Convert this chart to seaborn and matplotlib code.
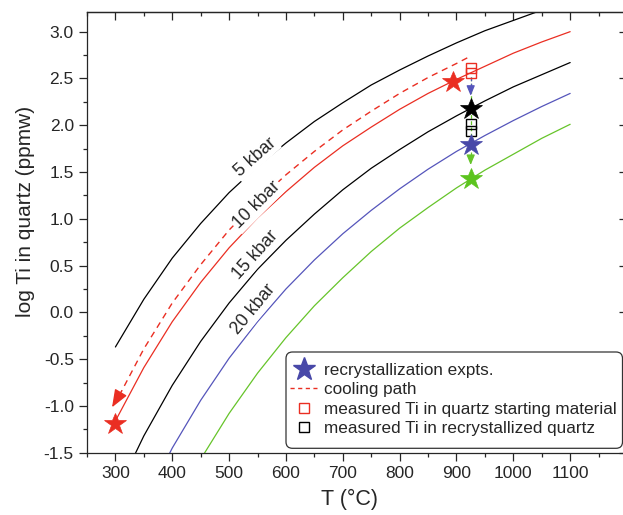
import matplotlib
matplotlib.use("Agg")
import matplotlib.pyplot as plt
from matplotlib.lines import Line2D
from matplotlib.patches import FancyBboxPatch
import seaborn as sns

# ---------------- data ----------------
T_C = [300, 350, 400, 450, 500, 550, 600, 650, 700, 750, 800, 850, 900, 950, 1000, 1050, 1100]
ti_5kbar = [-0.37, 0.14, 0.58, 0.95, 1.28, 1.56, 1.81, 2.04, 2.24, 2.43, 2.59, 2.74, 2.88, 3.01, 3.12, 3.23, 3.33]
ti_10kbar = [-1.16, -0.59, -0.10, 0.32, 0.69, 1.01, 1.29, 1.55, 1.78, 1.98, 2.17, 2.34, 2.49, 2.63, 2.77, 2.89, 3.00]
ti_15kbar = [-1.95, -1.32, -0.78, -0.31, 0.10, 0.46, 0.77, 1.05, 1.31, 1.54, 1.74, 1.93, 2.10, 2.26, 2.41, 2.54, 2.67]
ti_20kbar = [-2.75, -2.05, -1.45, -0.94, -0.49, -0.10, 0.25, 0.56, 0.84, 1.09, 1.32, 1.53, 1.72, 1.89, 2.05, 2.20, 2.34]
ti_25kbar = [-3.54, -2.78, -2.13, -1.57, -1.08, -0.65, -0.27, 0.07, 0.37, 0.65, 0.90, 1.12, 1.33, 1.52, 1.69, 1.86, 2.01]

cool_T = [919, 900, 850, 800, 750, 700, 650, 600, 550, 500, 450, 400, 350, 311]
cool_logti = [2.72, 2.66, 2.51, 2.34, 2.15, 1.95, 1.72, 1.47, 1.19, 0.88, 0.51, 0.10, -0.39, -0.84]
cool_tip_T = 294
cool_tip_logti = -1.015

star_T = [300, 894, 925, 925, 925]
star_logti = [-1.19, 2.46, 2.17, 1.79, 1.42]
star_kind = ["red", "red", "black", "blue", "green"]

start_sq_T = [925, 925]
start_sq_logti = [2.61, 2.56]
recr_sq_T = [925, 925]
recr_sq_logti = [2.01, 1.94]

arrow_T = 925
arrow_from = 2.52
blue_arrow_to = 2.315
green_arrow_to = 1.575

kbar_labels = ["5 kbar", "10 kbar", "15 kbar", "20 kbar"]
kbar_label_T = [546, 549, 546, 543]
kbar_label_logti = [1.66, 1.15, 0.61, 0.03]
kbar_label_rot = [41.5, 45, 48, 50.5]

legend_labels = ["recrystallization expts.", "cooling path",
                 "measured Ti in quartz starting material",
                 "measured Ti in recrystallized quartz"]

# ---------------- style ----------------
RED = "#EA2E22"
BLUE = "#4848A8"
BLUE_LINE = "#5555BB"
GREEN = "#5CC41E"
GREEN_LINE = "#66C42A"
colors = {"red": RED, "black": "black", "blue": BLUE, "green": GREEN}

sns.set_style("ticks")
plt.rcParams["font.family"] = ["Liberation Sans", "DejaVu Sans"]
plt.rcParams["axes.linewidth"] = 0.9

W, H = 623, 515
fig = plt.figure(figsize=(W / 100, H / 100), dpi=100)
ax_l, ax_r, ax_t, ax_b = 87, 627, 12.3, 452.7
ax = fig.add_axes([ax_l / W, (H - ax_b) / H, (ax_r - ax_l) / W, (ax_b - ax_t) / H])

lw = 0.9
sns.lineplot(x=T_C, y=ti_5kbar, ax=ax, color="black", lw=lw, sort=False, estimator=None, zorder=2)
sns.lineplot(x=T_C, y=ti_10kbar, ax=ax, color=RED, lw=lw, sort=False, estimator=None, zorder=2)
sns.lineplot(x=T_C, y=ti_15kbar, ax=ax, color="black", lw=lw, sort=False, estimator=None, zorder=2)
sns.lineplot(x=T_C, y=ti_20kbar, ax=ax, color=BLUE_LINE, lw=lw, sort=False, estimator=None, zorder=2)
sns.lineplot(x=T_C, y=ti_25kbar, ax=ax, color=GREEN_LINE, lw=lw, sort=False, estimator=None, zorder=2)

# cooling path
sns.lineplot(x=cool_T, y=cool_logti, ax=ax, color=RED, lw=1.0, sort=False, estimator=None,
             dashes=False, linestyle=(0, (4.5, 3.5)), zorder=2)
ax.annotate("", xy=(cool_tip_T, cool_tip_logti), xytext=(cool_T[-1], cool_logti[-1]),
            arrowprops=dict(arrowstyle="-|>,head_length=0.9,head_width=0.35", color=RED,
                            lw=1.0, mutation_scale=12, shrinkA=0, shrinkB=0), zorder=3)

# vertical arrows
sns.lineplot(x=[arrow_T, arrow_T], y=[arrow_from, green_arrow_to + 0.06], ax=ax, color=GREEN_LINE,
             lw=0.9, sort=False, estimator=None, linestyle=(0, (3, 2)), zorder=3)
ax.annotate("", xy=(arrow_T, green_arrow_to), xytext=(arrow_T, green_arrow_to + 0.07),
            arrowprops=dict(arrowstyle="-|>,head_length=0.6,head_width=0.25", color=GREEN_LINE,
                            lw=0.9, mutation_scale=10, shrinkA=0, shrinkB=0), zorder=3)
sns.lineplot(x=[arrow_T, arrow_T], y=[arrow_from, blue_arrow_to + 0.06], ax=ax, color=BLUE_LINE,
             lw=0.9, sort=False, estimator=None, linestyle=(0, (3, 2)), zorder=3)
ax.annotate("", xy=(arrow_T, blue_arrow_to), xytext=(arrow_T, blue_arrow_to + 0.07),
            arrowprops=dict(arrowstyle="-|>,head_length=0.6,head_width=0.25", color=BLUE_LINE,
                            lw=0.9, mutation_scale=10, shrinkA=0, shrinkB=0), zorder=3)

# measured squares
sns.lineplot(x=start_sq_T, y=start_sq_logti, ax=ax, marker="s", linestyle="none", markersize=6.5,
             markerfacecolor="none", markeredgecolor=RED, markeredgewidth=1.0, sort=False,
             estimator=None, zorder=5)
sns.lineplot(x=recr_sq_T, y=recr_sq_logti, ax=ax, marker="s", linestyle="none", markersize=6.5,
             markerfacecolor="none", markeredgecolor="black", markeredgewidth=1.0, sort=False,
             estimator=None, zorder=5)

# stars
for t, v, k in zip(star_T, star_logti, star_kind):
    sns.lineplot(x=[t], y=[v], ax=ax, marker="*", linestyle="none", markersize=16.5,
                 color=colors[k], markeredgecolor=colors[k], markeredgewidth=0.5,
                 sort=False, estimator=None, zorder=6)

# kbar labels
for lab, t, v, r in zip(kbar_labels, kbar_label_T, kbar_label_logti, kbar_label_rot):
    ax.text(t, v, lab, rotation=r, rotation_mode="anchor", ha="center", va="center",
            fontsize=12.8, zorder=4,
            bbox=dict(boxstyle="square,pad=0.1", fc="white", ec="none"))

# axes
ax.set_xlim(250, 1200)
ax.set_ylim(-1.5, 3.207)
ax.set_xticks(list(range(300, 1200, 100)))
ax.set_xticks(list(range(250, 1200, 100)), minor=True)
yt = [-1.5, -1.0, -0.5, 0.0, 0.5, 1.0, 1.5, 2.0, 2.5, 3.0]
ax.set_yticks(yt)
ax.set_yticks([-1.25, -0.75, -0.25, 0.25, 0.75, 1.25, 1.75, 2.25, 2.75], minor=True)
ax.set_yticklabels(["%.1f" % v for v in yt])
ax.tick_params(which="major", direction="out", length=5.5, width=0.9, labelsize=12.5, pad=4)
ax.tick_params(which="minor", direction="out", length=3, width=0.9)
for s in ["top", "right"]:
    ax.spines[s].set_visible(True)

sec_x = ax.secondary_xaxis("top")
sec_x.set_xticks(list(range(300, 1200, 100)))
sec_x.set_xticks(list(range(250, 1200, 100)), minor=True)
sec_x.tick_params(which="major", direction="in", length=5.5, width=0.9, labeltop=False)
sec_x.tick_params(which="minor", direction="in", length=3, width=0.9)
sec_y = ax.secondary_yaxis("right")
sec_y.set_yticks(yt)
sec_y.set_yticks([-1.25, -0.75, -0.25, 0.25, 0.75, 1.25, 1.75, 2.25, 2.75], minor=True)
sec_y.tick_params(which="major", direction="in", length=5.5, width=0.9, labelright=False)
sec_y.tick_params(which="minor", direction="in", length=3, width=0.9)

ax.set_xlabel("T (°C)", fontsize=15.5)
ax.set_ylabel("log Ti in quartz (ppmw)", fontsize=15)
ax.xaxis.set_label_coords(0.487, -0.082)
ax.yaxis.set_label_coords(-0.097, 0.548)

# legend frame (drawn as a rounded box) and entries
bx0, bx1 = (286 - ax_l) / (ax_r - ax_l), (622.5 - ax_l) / (ax_r - ax_l)
by0, by1 = (ax_b - 448.3) / (ax_b - ax_t), (ax_b - 352) / (ax_b - ax_t)
frame = FancyBboxPatch((bx0, by0), bx1 - bx0, by1 - by0,
                       boxstyle="round,pad=0,rounding_size=0.012", mutation_aspect=540 / 440.4,
                       transform=ax.transAxes, fc="white", ec="#333333", lw=0.9, zorder=9)
ax.add_patch(frame)

handles = [
    Line2D([], [], marker="*", linestyle="none", markersize=17, color=BLUE, markeredgecolor=BLUE),
    Line2D([], [], color=RED, lw=1.0, linestyle=(0, (3, 2.5))),
    Line2D([], [], marker="s", linestyle="none", markersize=6.5, markerfacecolor="none",
           markeredgecolor=RED, markeredgewidth=1.0),
    Line2D([], [], marker="s", linestyle="none", markersize=6.5, markerfacecolor="none",
           markeredgecolor="black", markeredgewidth=1.0),
]
leg = ax.legend(handles, legend_labels, loc="center left",
                bbox_to_anchor=((290 - ax_l) / (ax_r - ax_l), (ax_b - 399.5) / (ax_b - ax_t)),
                fontsize=12.3, frameon=False,
                handlelength=1.6, handletextpad=0.4, labelspacing=0.25, borderpad=0,
                borderaxespad=0)
leg.set_zorder(10)

fig.savefig("out.png", dpi=100)
